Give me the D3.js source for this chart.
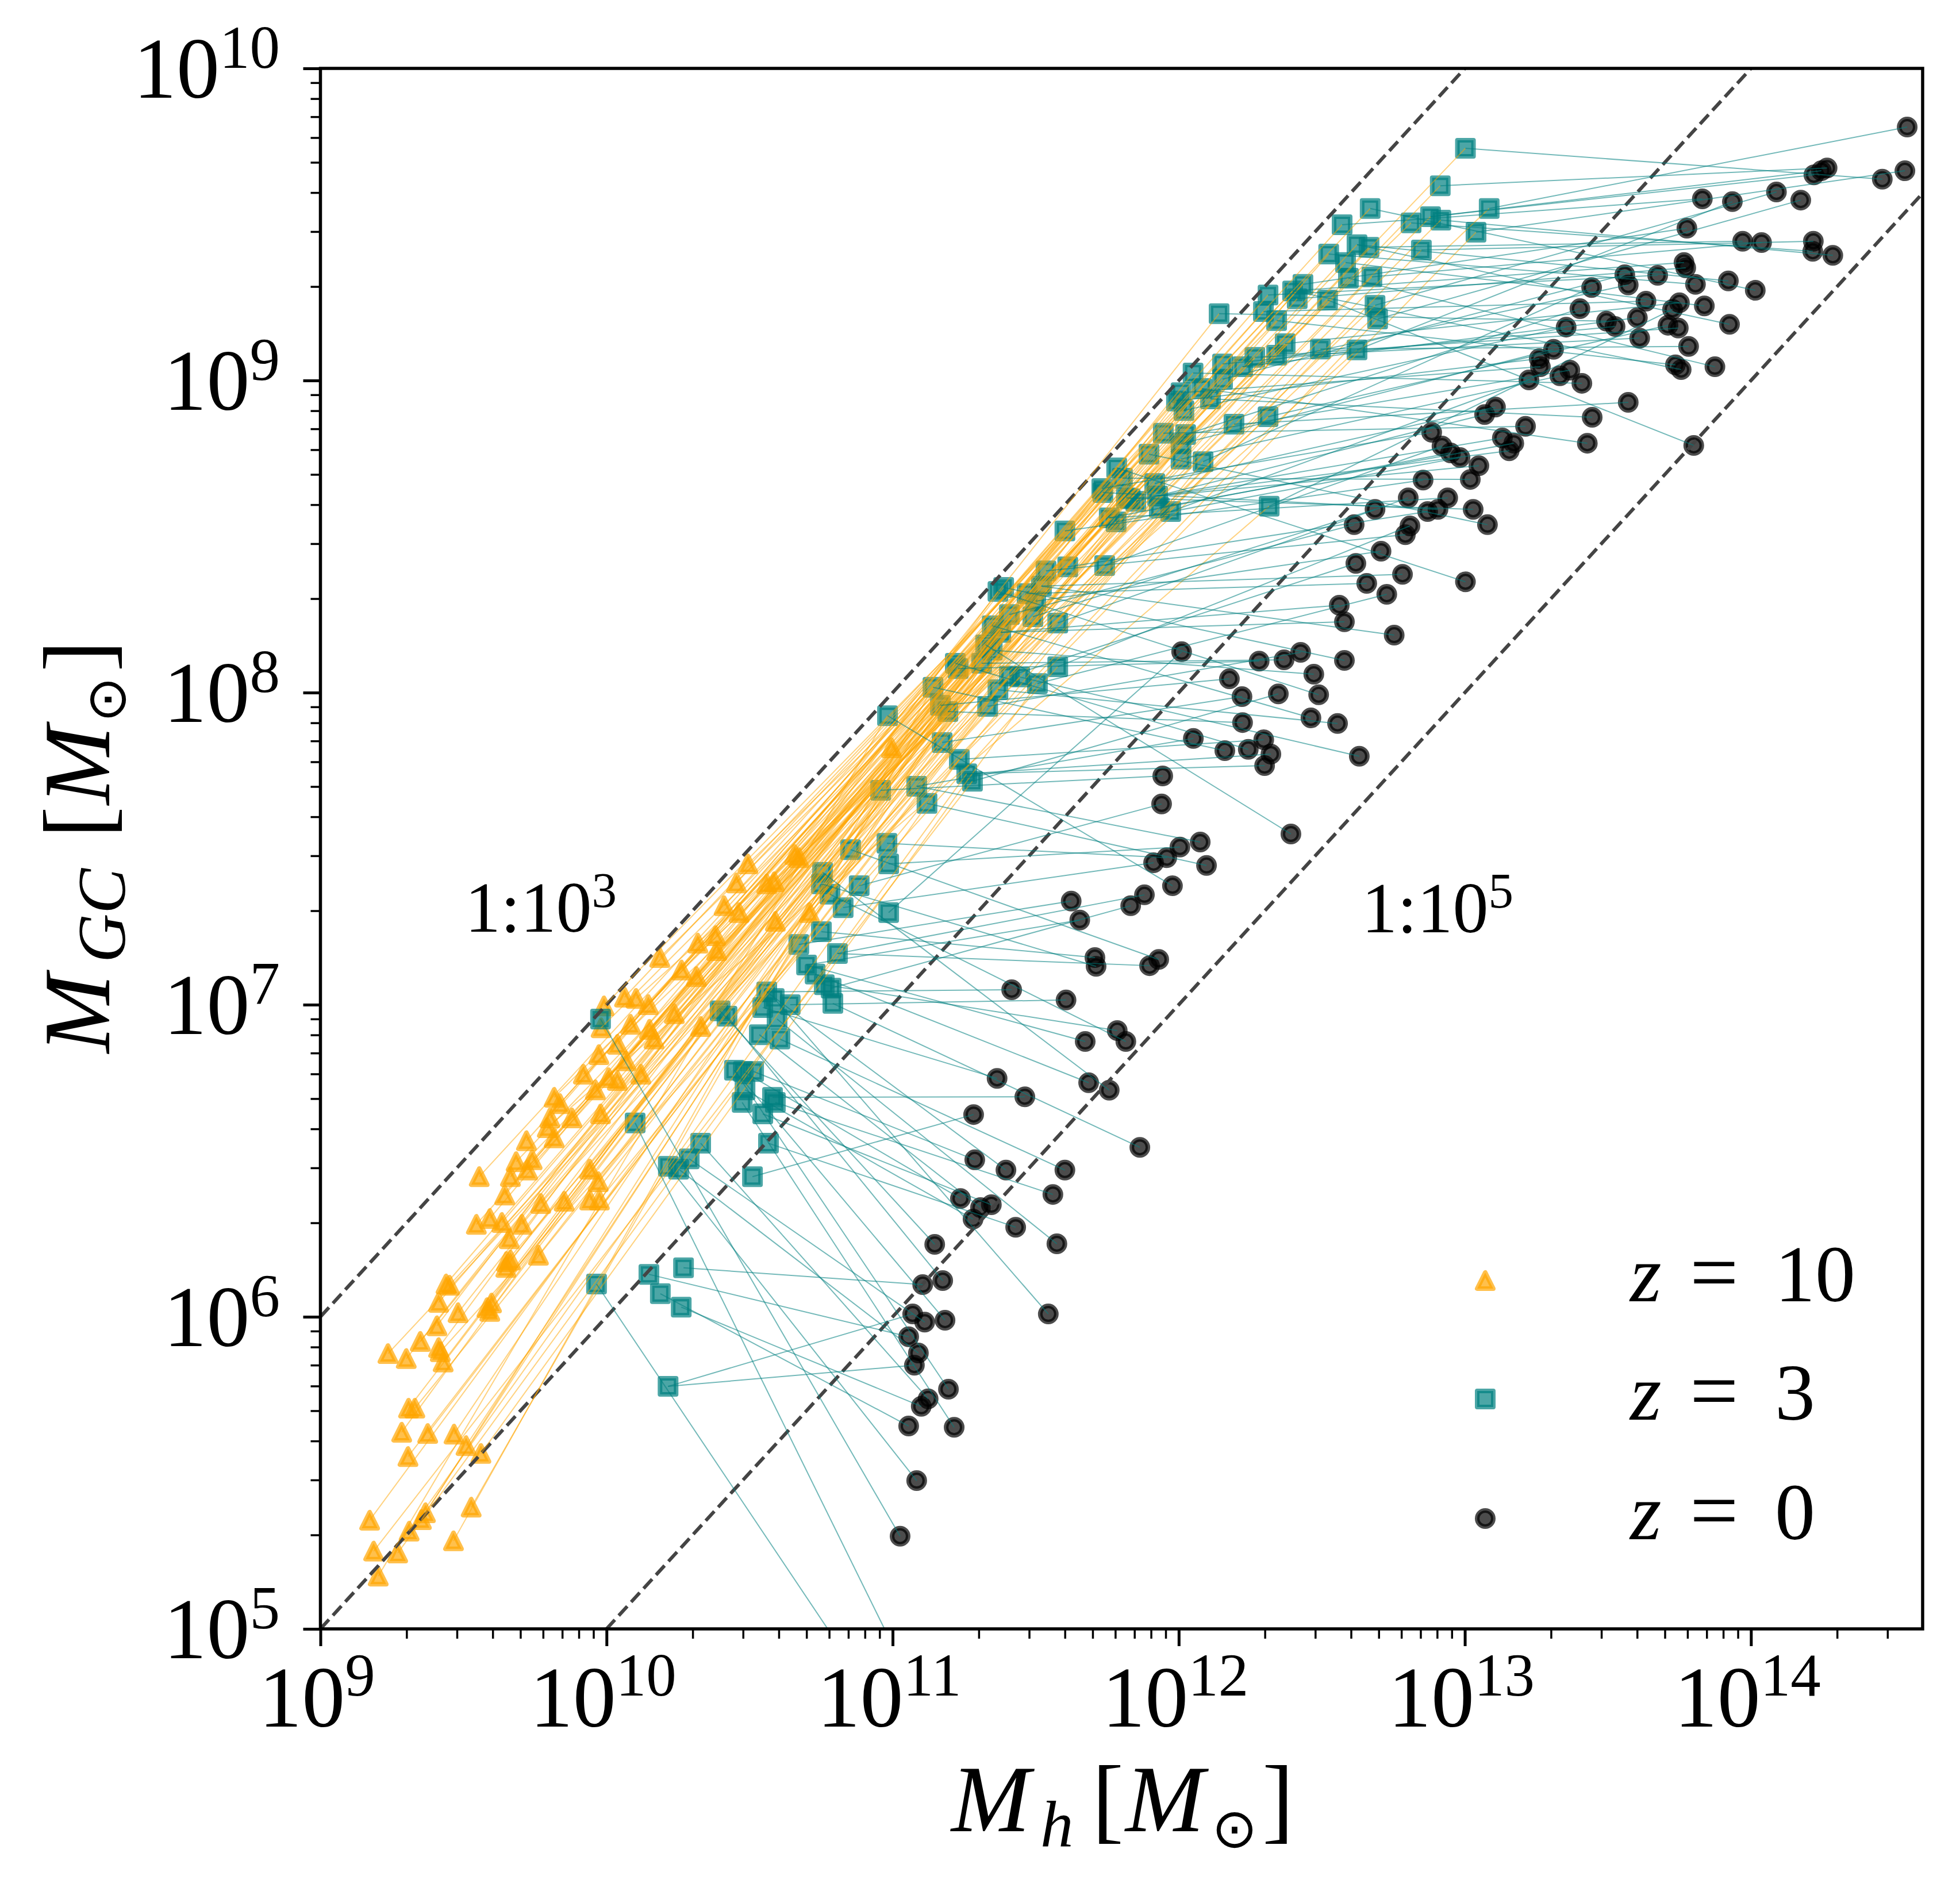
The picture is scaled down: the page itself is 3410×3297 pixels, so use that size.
<!DOCTYPE html>
<html><head><meta charset="utf-8">
<script src="https://cdn.jsdelivr.net/npm/d3@7"></script>
<style>html,body{margin:0;padding:0;background:#fff;} svg{display:block;}</style>
</head><body>
<script>
// ---- DATA: [log10(M_h / Msun), log10(M_GC / Msun)] ----
const z10Points = [
[9.545,6.296],[9.592,6.315],[9.634,6.302],[9.704,6.296],[9.660,6.250],[9.762,6.197],[9.650,6.177],[9.664,6.182],[9.648,6.158],[9.439,6.105],
[9.451,6.101],[9.413,6.046],[9.481,6.013],[9.582,6.029],[9.598,6.044],[9.592,6.017],[9.407,5.971],[9.349,5.921],[9.413,5.901],[9.419,5.888],
[9.429,5.855],[9.236,5.882],[9.300,5.866],[9.308,5.707],[9.330,5.707],[9.284,5.630],[9.375,5.626],[9.467,5.624],[9.509,5.587],[9.561,5.562],
[9.306,5.552],[9.172,5.348],[9.367,5.372],[9.353,5.350],[9.310,5.313],[9.527,5.390],[9.186,5.249],[9.270,5.243],[9.465,5.282],[9.202,5.169],
[10.494,7.451],[10.658,7.481],[10.672,7.471],[10.454,7.390],[10.560,7.387],[10.586,7.394],[10.411,7.317],[10.463,7.295],[10.590,7.267],[10.709,7.295],
[10.319,7.197],[10.381,7.221],[10.385,7.173],[10.186,7.151],[10.262,7.111],[10.314,7.090],[10.063,7.024],[10.103,7.020],[10.146,7.000],[9.991,6.996],
[9.981,6.926],[10.237,6.971],[10.084,6.937],[10.150,6.921],[10.166,6.890],[10.329,6.930],[10.038,6.873],[9.973,6.840],[10.068,6.820],[9.919,6.777],
[10.007,6.766],[10.038,6.757],[10.120,6.777],[9.961,6.727],[9.817,6.703],[9.837,6.683],[9.879,6.637],[9.979,6.650],[9.802,6.637],[9.793,6.606],
[9.817,6.573],[9.720,6.564],[9.684,6.497],[9.740,6.503],[9.555,6.449],[9.664,6.449],[9.724,6.470],[9.941,6.473],[9.971,6.433],[9.644,6.390],
[9.770,6.363],[9.852,6.370],[9.941,6.374],[9.975,6.374],[10.996,7.823]
];
const z3Points = [
[9.965,6.105],[10.148,6.136],[10.188,6.074],[10.269,6.157],[10.261,6.031],[10.215,5.777],
[9.979,6.954],[10.100,6.621],[10.329,6.556],[10.289,6.506],[10.216,6.482],[10.252,6.473],[10.510,6.449],[10.566,6.556],[10.447,6.790],[10.478,6.786],
[10.514,6.786],[10.484,6.727],[10.474,6.687],[10.580,6.703],[10.590,6.687],[10.546,6.650],[10.397,6.980],[10.421,6.963],[10.560,7.041],[10.586,7.020],
[10.546,6.991],[10.642,7.000],[10.596,6.954],[10.534,6.904],[10.606,6.890],[10.672,7.193],[10.751,7.234],[10.807,7.164],[10.699,7.127],[10.729,7.098],
[10.761,7.064],[10.785,7.053],[10.791,7.004],[10.755,7.424],[10.751,7.387],[10.781,7.354],[10.827,7.311],[10.883,7.381],[10.853,7.497],[10.980,7.517],
[10.986,7.451],[10.986,7.295],
[11.602,8.518],[11.735,8.641],[11.817,8.624],[11.850,8.613],[11.757,8.560],[11.781,8.547],[11.612,8.403],[11.741,8.407],[11.536,8.390],[11.368,8.324],
[11.388,8.337],[11.470,8.317],[11.520,8.341],[11.500,8.293],[11.408,8.250],[11.490,8.243],[11.348,8.214],[11.577,8.223],[11.378,8.193],[11.325,8.153],
[11.348,8.136],[11.311,8.094],[11.219,8.094],[11.229,8.077],[11.577,8.083],[11.408,8.053],[11.444,8.050],[11.506,8.029],[11.368,8.009],[11.332,7.956],
[11.141,8.017],[11.167,7.959],[11.193,7.939],[10.982,7.926],[11.173,7.840],[11.233,7.786],[11.259,7.740],[11.279,7.716],[10.958,7.687],[11.084,7.700],
[11.120,7.645],
[12.669,9.551],[12.571,9.499],[12.812,9.505],[12.880,9.525],[12.916,9.514],[13.039,9.475],[13.085,9.551],[12.524,9.405],[12.623,9.435],[12.665,9.427],
[12.583,9.378],[12.593,9.328],[12.675,9.332],[12.848,9.418],[12.434,9.308],[12.398,9.287],[12.414,9.262],[12.312,9.274],[12.520,9.258],[12.141,9.214],
[12.296,9.221],[12.342,9.192],[12.686,9.241],[12.695,9.197],[12.372,9.118],[12.342,9.081],[12.495,9.101],[12.623,9.098],[12.266,9.074],[12.223,9.044],
[12.153,9.053],[12.153,9.004],[12.050,9.024],[12.081,8.974],[12.008,8.961],[12.111,8.941],[11.992,8.934],[12.018,8.904],[12.193,8.860],[12.312,8.884],
[11.946,8.831],[12.024,8.827],[12.008,8.797],[11.896,8.764],[12.008,8.748],[12.085,8.740],[11.783,8.720],[11.803,8.687],[11.731,8.654],[11.916,8.670],
[11.926,8.630],[11.830,8.621],[11.932,8.593],[11.972,8.580],[12.316,8.597],
[13.002,9.744],[12.914,9.624]
];
const z0Points = [
[11.416,7.048],[11.606,7.015],[11.785,6.917],[11.815,6.882],[11.673,6.882],[11.365,6.764],[11.462,6.705],[11.685,6.750],[11.757,6.726],[11.283,6.648],
[11.864,6.543],[11.287,6.503],[11.396,6.470],[11.602,6.470],[11.560,6.392],[11.237,6.379],[11.307,6.350],[11.345,6.359],[11.281,6.313],[11.430,6.287],
[11.574,6.234],[11.147,6.232],[11.105,6.103],[11.175,6.116],[11.070,6.009],[11.112,5.983],[11.183,5.989],[11.544,6.009],[11.056,5.936],[11.090,5.884],
[11.076,5.845],[11.195,5.768],[11.124,5.737],[11.100,5.713],[11.056,5.650],[11.215,5.646],[11.084,5.475],[11.026,5.297],
[11.624,7.332],[11.654,7.271],[11.707,7.151],[11.711,7.123],
[12.707,8.453],[12.619,8.414],[12.782,8.379],[12.657,8.350],[12.727,8.315],[13.002,8.355],[12.561,8.280],[12.579,8.227],[12.753,8.184],[12.010,8.131],
[12.281,8.101],[12.368,8.105],[12.426,8.129],[12.579,8.103],[12.177,8.044],[12.472,8.059],[12.221,7.987],[12.348,7.996],[12.489,7.993],[12.223,7.904],
[12.462,7.919],[12.555,7.901],[12.051,7.853],[12.161,7.814],[12.243,7.818],[12.297,7.849],[12.322,7.803],[12.300,7.766],[12.631,7.796],[11.944,7.733],
[11.940,7.643],[12.392,7.547],[12.075,7.521],[12.004,7.505],[11.958,7.471],[11.912,7.455],[12.097,7.446],[11.978,7.381],[11.880,7.352],[11.832,7.317],
[11.930,7.145],[11.898,7.125],
[13.069,8.891],[12.884,8.834],[12.920,8.790],[12.950,8.768],[12.983,8.753],[13.049,8.727],[13.019,8.683],[12.854,8.681],[12.940,8.624],[12.802,8.624],
[12.686,8.587],[12.870,8.580],[12.906,8.587],[13.029,8.587],[13.079,8.538],[12.613,8.538],[12.808,8.534],[12.792,8.506],
[13.224,9.002],[13.332,9.015],[13.409,8.991],[13.571,8.930],[13.445,8.882],[13.107,8.915],[13.212,8.853],[13.131,8.816],[13.171,8.799],[13.155,8.775],
[13.428,8.799],[13.800,8.792],
[13.830,9.582],[13.935,9.573],[14.089,9.604],[13.776,9.488],[13.971,9.446],[14.037,9.442],[13.766,9.378],[13.772,9.361],[13.559,9.339],[13.674,9.337],
[13.571,9.306],[13.806,9.308],[13.921,9.319],[14.015,9.289],[13.443,9.298],[13.633,9.254],[13.750,9.249],[13.726,9.228],[13.837,9.239],[13.402,9.230],
[13.603,9.201],[13.495,9.190],[13.525,9.173],[13.710,9.177],[13.746,9.168],[13.925,9.180],[13.354,9.171],[13.611,9.136],[13.782,9.109],[13.310,9.100],
[13.260,9.070],[13.264,9.044],[13.367,9.033],[13.736,9.050],[13.756,9.035],[13.874,9.044],
[14.546,9.812],[14.538,9.672],[14.459,9.645],[14.266,9.681],[14.246,9.672],[14.220,9.659],[14.174,9.578],[14.218,9.446],[14.216,9.414],[14.286,9.401],
[10.890,4.840],[11.036,4.880]
];
const ratioValues = [1e-3, 1e-4, 1e-5];
const ratioLabels = [{base:"1:10", exp:"3"}, {base:"1:10", exp:"5"}];
const xTickExps = [9, 10, 11, 12, 13, 14];
const yTickExps = [5, 6, 7, 8, 9, 10];
const legendLabels = ["10", "3", "0"];

// ---- LAYOUT ----
const W = 3410, H = 3297;
const X0 = 557.5, X1 = 3345, Y0 = 119, Y1 = 2834;
const SERIF = "'Liberation Serif', 'Times New Roman', serif";
const x = d3.scaleLog().domain([1e9, Math.pow(10, 14.6)]).range([X0, X1]);
const y = d3.scaleLog().domain([1e5, 1e10]).range([Y1, Y0]);
const px = d => x(Math.pow(10, d[0]));
const py = d => y(Math.pow(10, d[1]));

const ORANGE = "#FFA500", TEAL = "#008080", BLACK = "#000000";
const MS = 14, EW = 8;

const svg = d3.select("body").append("svg").attr("width", W).attr("height", H);
svg.append("rect").attr("width", W).attr("height", H).attr("fill", "#fff");
svg.append("defs").append("clipPath").attr("id", "clip")
  .append("rect").attr("x", X0).attr("y", Y0).attr("width", X1 - X0).attr("height", Y1 - Y0);

const plot = svg.append("g").attr("clip-path", "url(#clip)");

// markers
const triPath = `M0,${-MS}L${-MS},${MS}L${MS},${MS}Z`;
function drawMarker(g, shape, color, cx, cy) {
  let m;
  if (shape === "tri") m = g.append("path").attr("d", triPath).attr("transform", `translate(${cx},${cy})`);
  else if (shape === "sq") m = g.append("rect").attr("x", cx - MS).attr("y", cy - MS).attr("width", 2 * MS).attr("height", 2 * MS);
  else m = g.append("circle").attr("cx", cx).attr("cy", cy).attr("r", MS);
  m.attr("fill", color).attr("fill-opacity", 0.7).attr("stroke", color).attr("stroke-opacity", 0.7)
   .attr("stroke-width", EW).attr("stroke-linejoin", "round");
}
const gMarks = plot.append("g");
z10Points.forEach(d => drawMarker(gMarks, "tri", ORANGE, px(d), py(d)));
z3Points.forEach(d => drawMarker(gMarks, "sq", TEAL, px(d), py(d)));
z0Points.forEach(d => drawMarker(gMarks, "circ", BLACK, px(d), py(d)));

// ratio lines
const gRatio = plot.append("g");
ratioValues.forEach(r => {
  const a = [9, 9 + Math.log10(r)], b = [14.6, 14.6 + Math.log10(r)];
  gRatio.append("line").attr("x1", px(a)).attr("y1", py(a)).attr("x2", px(b)).attr("y2", py(b))
    .attr("stroke", "#444").attr("stroke-width", 6).attr("stroke-dasharray", "22,10");
});

// evolutionary links (galaxies matched by rank)
const sumOf = d => d[0] + d[1];
const triOrder = d3.range(z10Points.length).sort((a, b) => sumOf(z10Points[a]) - sumOf(z10Points[b]));
const sqOrderS = d3.range(z3Points.length).sort((a, b) => sumOf(z3Points[a]) - sumOf(z3Points[b]));
const off = z3Points.length - z10Points.length;
const gLinks = plot.append("g").attr("fill", "none");
triOrder.forEach((ti, k) => {
  const a = z10Points[ti], b = z3Points[sqOrderS[off + k]];
  gLinks.append("line").attr("x1", px(a)).attr("y1", py(a)).attr("x2", px(b)).attr("y2", py(b))
    .attr("stroke", ORANGE).attr("stroke-opacity", 0.5).attr("stroke-width", 2);
});
const sqOrderM = d3.range(z3Points.length).sort((a, b) => z3Points[a][0] - z3Points[b][0]);
const ciOrderM = d3.range(z0Points.length).sort((a, b) => z0Points[a][0] - z0Points[b][0]);
ciOrderM.forEach((ci, k) => {
  const si = sqOrderM[Math.round(k * (z3Points.length - 1) / (z0Points.length - 1))];
  const a = z3Points[si], b = z0Points[ci];
  gLinks.append("line").attr("x1", px(a)).attr("y1", py(a)).attr("x2", px(b)).attr("y2", py(b))
    .attr("stroke", TEAL).attr("stroke-opacity", 0.55).attr("stroke-width", 2);
});

// ratio labels
const labelPos = [[809, 1621], [2369, 1622]];
ratioLabels.forEach((l, i) => {
  const t = svg.append("text").attr("x", labelPos[i][0]).attr("y", labelPos[i][1])
    .attr("font-family", SERIF).attr("font-size", 124).attr("fill", "#000");
  t.append("tspan").text(l.base);
  t.append("tspan").attr("dy", -43).attr("font-size", 87).text(l.exp);
});

// axes ticks
function minorTicks(lo, hi) {
  const out = [];
  for (let e = Math.floor(lo); e <= Math.ceil(hi); e++)
    for (let k = 2; k <= 9; k++) { const v = k * Math.pow(10, e); if (Math.log10(v) >= lo && Math.log10(v) <= hi) out.push(v); }
  return out;
}
const xMaj = xTickExps.map(e => Math.pow(10, e));
const yMaj = yTickExps.map(e => Math.pow(10, e));
function styleAxis(g, w) { g.select(".domain").remove(); g.selectAll("line").attr("stroke", "#000").attr("stroke-width", w); }
svg.append("g").attr("transform", `translate(0,${Y1})`)
  .call(d3.axisBottom(x).tickValues(minorTicks(9, 14.6)).tickSize(17).tickFormat("")).call(g => styleAxis(g, 3.5));
svg.append("g").attr("transform", `translate(0,${Y1})`)
  .call(d3.axisBottom(x).tickValues(xMaj).tickSize(30).tickFormat("")).call(g => styleAxis(g, 5));
svg.append("g").attr("transform", `translate(${X0},0)`)
  .call(d3.axisLeft(y).tickValues(minorTicks(5, 10)).tickSize(17).tickFormat("")).call(g => styleAxis(g, 3.5));
svg.append("g").attr("transform", `translate(${X0},0)`)
  .call(d3.axisLeft(y).tickValues(yMaj).tickSize(30).tickFormat("")).call(g => styleAxis(g, 5));

// tick labels
xTickExps.forEach(e => {
  const t = svg.append("text").attr("x", x(Math.pow(10, e)) - 6).attr("y", 3004)
    .attr("text-anchor", "middle").attr("font-family", SERIF).attr("font-size", 150).attr("fill", "#000");
  t.append("tspan").text("10");
  t.append("tspan").attr("dy", -54).attr("font-size", 105).text(String(e));
});
yTickExps.forEach(e => {
  const t = svg.append("text").attr("x", 487).attr("y", y(Math.pow(10, e)) + 51)
    .attr("text-anchor", "end").attr("font-family", SERIF).attr("font-size", 150).attr("fill", "#000");
  t.append("tspan").text("10");
  t.append("tspan").attr("dy", -52).attr("font-size", 105).text(String(e));
});

// frame
svg.append("rect").attr("x", X0).attr("y", Y0).attr("width", X1 - X0).attr("height", Y1 - Y0)
  .attr("fill", "none").attr("stroke", "#000").attr("stroke-width", 5.5);

// x label
const XB = 3186;
const xl = svg.append("text").attr("font-family", SERIF).attr("fill", "#000");
xl.append("tspan").attr("x", 1655).attr("y", XB).attr("font-size", 165).attr("font-style", "italic").text("M");
xl.append("tspan").attr("x", 1810).attr("y", XB + 27).attr("font-size", 115).attr("font-style", "italic").text("h");
xl.append("tspan").attr("x", 1900).attr("y", XB).attr("font-size", 165).text("[");
xl.append("tspan").attr("x", 1958).attr("y", XB).attr("font-size", 165).attr("font-style", "italic").text("M");
xl.append("tspan").attr("x", 2108).attr("y", XB + 28).attr("font-size", 95).attr("font-family", "'DejaVu Sans'").text("\u2299");
xl.append("tspan").attr("x", 2196).attr("y", XB).attr("font-size", 165).text("]");

// y label
const yg = svg.append("g").attr("transform", "translate(190,1483) rotate(-90)");
const yl = yg.append("text").attr("font-family", SERIF).attr("fill", "#000");
yl.append("tspan").attr("x", -349).attr("y", 0).attr("font-size", 165).attr("font-style", "italic").text("M");
yl.append("tspan").attr("x", -192).attr("y", 27).attr("font-size", 118).attr("font-style", "italic").text("GC");
yl.append("tspan").attr("x", 25).attr("y", 0).attr("font-size", 165).text("[");
yl.append("tspan").attr("x", 83).attr("y", 0).attr("font-size", 165).attr("font-style", "italic").text("M");
yl.append("tspan").attr("x", 226).attr("y", 28).attr("font-size", 95).attr("font-family", "'DejaVu Sans'").text("\u2299");
yl.append("tspan").attr("x", 314).attr("y", 0).attr("font-size", 165).text("]");

// legend
const legShapes = ["tri", "sq", "circ"], legColors = [ORANGE, TEAL, BLACK];
const legY = [2228, 2434, 2642];
legendLabels.forEach((lab, i) => {
  drawMarker(svg, legShapes[i], legColors[i], 2584, legY[i]);
  const by = legY[i] + 36;
  svg.append("text").attr("x", 2836).attr("y", by).attr("font-family", SERIF).attr("font-size", 140)
    .attr("font-style", "italic").text("z");
  svg.append("text").attr("x", 2940).attr("y", by).attr("font-family", SERIF).attr("font-size", 150).text("=");
  svg.append("text").attr("x", 3088).attr("y", by).attr("font-family", SERIF).attr("font-size", 140).text(lab);
});
</script>
</body></html>
